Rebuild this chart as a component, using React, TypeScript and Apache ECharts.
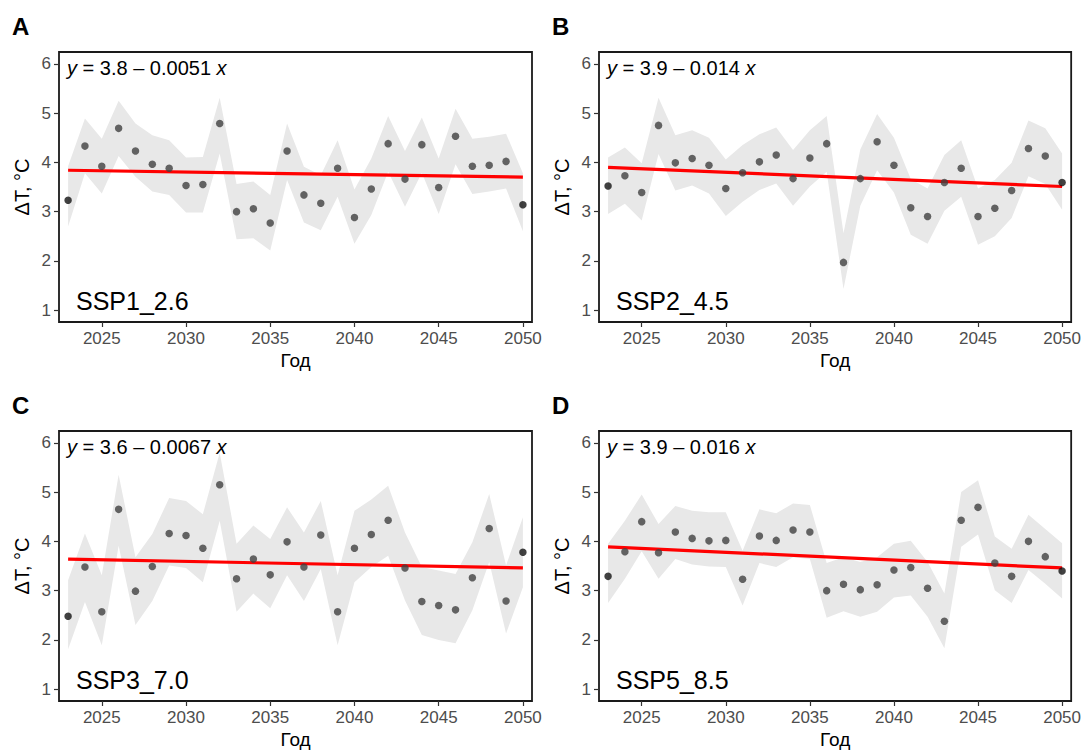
import React, { useEffect, useRef } from "react";
import * as echarts from "echarts";

const years = [2023, 2024, 2025, 2026, 2027, 2028, 2029, 2030, 2031, 2032, 2033, 2034, 2035, 2036, 2037, 2038, 2039, 2040, 2041, 2042, 2043, 2044, 2045, 2046, 2047, 2048, 2049, 2050];
const xTicks = [2025, 2030, 2035, 2040, 2045, 2050];
const yTicks = [1, 2, 3, 4, 5, 6];

const panelLetters = ["A", "B", "C", "D"];
const scenarioNames = ["SSP1_2.6", "SSP2_4.5", "SSP3_7.0", "SSP5_8.5"];
const eqIntercepts = ["3.8", "3.9", "3.6", "3.9"];
const eqSlopes = ["0.0051", "0.014", "0.0067", "0.016"];
const trendStart = [3.84, 3.9, 3.64, 3.89];
const trendEnd = [3.7, 3.51, 3.46, 3.46];

const ssp1 = [3.23, 4.33, 3.92, 4.69, 4.23, 3.96, 3.88, 3.53, 3.55, 4.79, 3.0, 3.06, 2.77, 4.23, 3.34, 3.17, 3.88, 2.88, 3.46, 4.38, 3.66, 4.36, 3.49, 4.53, 3.92, 3.94, 4.02, 3.14];
const ssp1Upper = [3.92, 4.89, 4.48, 5.25, 4.79, 4.55, 4.45, 4.1, 4.11, 5.31, 3.56, 3.61, 3.34, 4.79, 3.91, 3.74, 4.45, 3.45, 4.08, 4.94, 4.23, 4.91, 4.08, 5.09, 4.48, 4.52, 4.58, 3.78];
const ssp1Lower = [2.7, 3.78, 3.37, 4.13, 3.71, 3.41, 3.34, 2.98, 2.98, 4.18, 2.44, 2.46, 2.21, 3.64, 2.78, 2.62, 3.3, 2.35, 2.93, 3.81, 3.1, 3.79, 2.95, 3.96, 3.36, 3.41, 3.47, 2.6];

const ssp2 = [3.52, 3.73, 3.39, 4.75, 3.99, 4.08, 3.94, 3.47, 3.79, 4.01, 4.15, 3.67, 4.09, 4.38, 1.97, 3.67, 4.42, 3.94, 3.08, 2.9, 3.59, 3.88, 2.9, 3.07, 3.43, 4.28, 4.13, 3.59];
const ssp2Upper = [4.1, 4.3, 3.98, 5.31, 4.55, 4.65, 4.5, 4.06, 4.35, 4.57, 4.71, 4.25, 4.65, 4.94, 2.56, 4.26, 4.98, 4.5, 3.66, 3.47, 4.15, 4.45, 3.47, 3.64, 3.99, 4.85, 4.69, 4.18];
const ssp2Lower = [2.95, 3.16, 2.82, 4.17, 3.43, 3.53, 3.37, 2.91, 3.2, 3.44, 3.57, 3.12, 3.51, 3.81, 1.43, 3.12, 3.84, 3.39, 2.53, 2.35, 3.02, 3.3, 2.33, 2.5, 2.87, 3.72, 3.56, 3.04];

const ssp3 = [2.48, 3.48, 2.57, 4.65, 2.99, 3.49, 4.16, 4.12, 3.86, 5.15, 3.24, 3.64, 3.32, 3.99, 3.48, 4.13, 2.57, 3.86, 4.14, 4.43, 3.46, 2.78, 2.7, 2.61, 3.26, 4.26, 2.79, 3.78];
const ssp3Upper = [3.21, 4.16, 3.31, 5.35, 3.68, 4.15, 4.88, 4.82, 4.55, 5.8, 3.95, 4.32, 4.05, 4.69, 4.18, 4.82, 3.31, 4.62, 4.85, 5.13, 4.18, 3.48, 3.41, 3.34, 3.98, 4.96, 3.51, 4.49];
const ssp3Lower = [1.81, 2.77, 1.89, 3.91, 2.3, 2.79, 3.51, 3.46, 3.17, 4.42, 2.57, 2.94, 2.64, 3.31, 2.79, 3.44, 1.89, 3.17, 3.48, 3.71, 2.8, 2.1, 2.0, 1.93, 2.6, 3.58, 2.13, 3.07];

const ssp5 = [3.29, 3.79, 4.4, 3.77, 4.19, 4.06, 4.01, 4.02, 3.23, 4.11, 4.02, 4.23, 4.19, 3.0, 3.13, 3.02, 3.12, 3.42, 3.47, 3.05, 2.38, 4.43, 4.69, 3.56, 3.29, 4.0, 3.69, 3.4];
const ssp5Upper = [3.95, 4.42, 4.95, 4.35, 4.72, 4.62, 4.59, 4.59, 3.81, 4.65, 4.57, 4.77, 4.74, 3.56, 3.68, 3.58, 3.68, 3.95, 4.01, 3.58, 2.94, 5.0, 5.24, 4.1, 3.85, 4.54, 4.25, 3.96];
const ssp5Lower = [2.75, 3.24, 3.8, 3.24, 3.64, 3.53, 3.49, 3.48, 2.7, 3.56, 3.48, 3.68, 3.64, 2.45, 2.58, 2.47, 2.57, 2.86, 2.9, 2.47, 1.83, 3.89, 4.14, 3.01, 2.75, 3.42, 3.14, 2.84];

const panelValues = [ssp1, ssp2, ssp3, ssp5];
const panelUpper = [ssp1Upper, ssp2Upper, ssp3Upper, ssp5Upper];
const panelLower = [ssp1Lower, ssp2Lower, ssp3Lower, ssp5Lower];

const FONT = '"Liberation Sans", Arial, Helvetica, sans-serif';

export default function App() {
  const ref = useRef<HTMLDivElement>(null);

  useEffect(() => {
    if (!ref.current) return;
    const chart = echarts.init(ref.current, null, { renderer: "svg" });

    const lefts = [59, 599, 59, 599];
    const tops = [52, 52, 431, 431];
    const W = 473;
    const H = 270;

    const grids: any[] = [];
    const xAxes: any[] = [];
    const yAxes: any[] = [];
    const series: any[] = [];
    const graphics: any[] = [];

    for (let p = 0; p < 4; p++) {
      grids.push({
        left: lefts[p],
        top: tops[p],
        width: W,
        height: H,
        show: true,
        borderColor: "#1a1a1a",
        borderWidth: 1.8,
        backgroundColor: "transparent",
        containLabel: false,
      });
      xAxes.push({
        type: "value",
        gridIndex: p,
        min: 2022.46,
        max: 2050.54,
        name: "Год",
        nameLocation: "middle",
        nameGap: 29,
        nameTextStyle: { color: "#000", fontSize: 19, fontFamily: FONT },
        axisLine: { show: false },
        axisTick: { show: true, customValues: xTicks, length: 5, lineStyle: { color: "#333", width: 1.2 } },
        axisLabel: {
          customValues: xTicks,
          color: "#4d4d4d",
          fontSize: 17,
          margin: 8,
          fontFamily: FONT,
          formatter: (v: number) => String(v),
        },
        splitLine: { show: false },
      });
      yAxes.push({
        type: "value",
        gridIndex: p,
        min: 0.76,
        max: 6.24,
        name: "ΔT, °C",
        nameLocation: "middle",
        nameGap: 27,
        nameRotate: 90,
        nameTextStyle: { color: "#000", fontSize: 20, fontFamily: FONT },
        axisLine: { show: false },
        axisTick: { show: true, customValues: yTicks, length: 5, lineStyle: { color: "#333", width: 1.2 } },
        axisLabel: {
          customValues: yTicks,
          color: "#4d4d4d",
          fontSize: 17,
          margin: 8,
          fontFamily: FONT,
          formatter: (v: number) => String(v),
        },
        splitLine: { show: false },
      });

      const vals = panelValues[p];
      const up = panelUpper[p];
      const lo = panelLower[p];

      series.push({
        type: "custom",
        xAxisIndex: p,
        yAxisIndex: p,
        z: 1,
        silent: true,
        data: [[years[0], lo[0]]],
        renderItem: (params: any, api: any) => {
          const pts: number[][] = [];
          for (let i = 0; i < years.length; i++) pts.push(api.coord([years[i], up[i]]));
          for (let i = years.length - 1; i >= 0; i--) pts.push(api.coord([years[i], lo[i]]));
          return {
            type: "polygon",
            shape: { points: pts },
            style: { fill: "#e8e8e8", stroke: "none" },
          };
        },
      });

      series.push({
        type: "line",
        xAxisIndex: p,
        yAxisIndex: p,
        z: 2,
        silent: true,
        symbol: "none",
        data: [
          [years[0], trendStart[p]],
          [years[years.length - 1], trendEnd[p]],
        ],
        lineStyle: { color: "#ff0000", width: 3.2 },
      });

      series.push({
        type: "scatter",
        xAxisIndex: p,
        yAxisIndex: p,
        z: 3,
        symbol: "circle",
        symbolSize: 7.5,
        data: years.map((yr, i) => ({
          value: [yr, vals[i]],
          itemStyle: { color: i === 0 || i === years.length - 1 ? "#111" : "#404040" },
        })),
      });

      graphics.push({
        type: "text",
        left: lefts[p] + 8,
        top: tops[p] + 6,
        style: {
          text: `{i|y} = ${eqIntercepts[p]} – ${eqSlopes[p]} {i|x}`,
          fontSize: 20,
          fontFamily: FONT,
          fill: "#000",
          rich: { i: { fontStyle: "italic", fontSize: 20, fontFamily: FONT, fill: "#000" } },
        },
      });
      graphics.push({
        type: "text",
        left: lefts[p] + 17,
        top: tops[p] + 236,
        style: { text: scenarioNames[p], fontSize: 25, fontFamily: FONT, fill: "#000" },
      });
      graphics.push({
        type: "text",
        left: lefts[p] - 47,
        top: tops[p] - 38,
        style: { text: panelLetters[p], fontSize: 24, fontWeight: "bold", fontFamily: FONT, fill: "#000" },
      });
    }

    chart.setOption({
      animation: false,
      backgroundColor: "#fff",
      textStyle: { fontFamily: FONT },
      grid: grids,
      xAxis: xAxes,
      yAxis: yAxes,
      series,
      graphic: graphics,
    });

    return () => chart.dispose();
  }, []);

  return (
    <div
      ref={ref}
      style={{ position: "fixed", left: 0, top: 0, width: 1084, height: 751, background: "#fff" }}
    />
  );
}
